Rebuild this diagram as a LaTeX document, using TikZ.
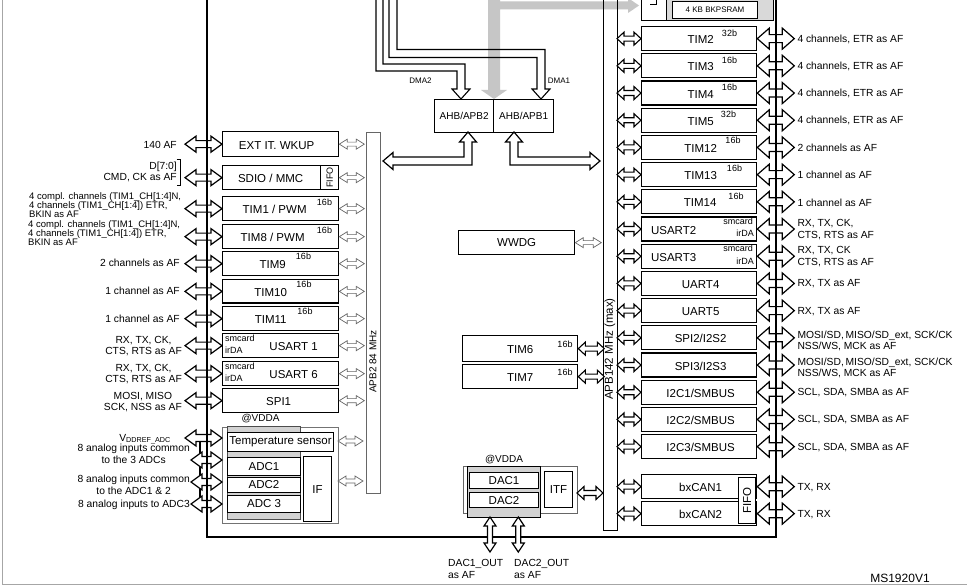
\documentclass[tikz,border=0pt]{standalone}
\usepackage{fontspec}
\setmainfont{Liberation Sans}
\usetikzlibrary{calc}
\newcommand\hdbl[6]{\path[#1] let \p1=#2, \p2=#3 in (\x1,\y1) -- (\x1+#4,\y1+#5) -- (\x1+#4,\y1+#6) -- (\x2-#4,\y1+#6) -- (\x2-#4,\y1+#5) -- (\x2,\y1) -- (\x2-#4,\y1-#5) -- (\x2-#4,\y1-#6) -- (\x1+#4,\y1-#6) -- (\x1+#4,\y1-#5) -- cycle;}
\newcommand\vdbl[6]{\path[#1] let \p1=#2, \p2=#3 in (\x1,\y1) -- (\x1+#5,\y1-#4) -- (\x1+#6,\y1-#4) -- (\x1+#6,\y2+#4) -- (\x1+#5,\y2+#4) -- (\x1,\y2) -- (\x1-#5,\y2+#4) -- (\x1-#6,\y2+#4) -- (\x1-#6,\y1-#4) -- (\x1-#5,\y1-#4) -- cycle;}
\newcommand\fatL[2]{\hdbl{fatA}{#1}{#2}{11pt}{8pt}{3.5pt}}
\newcommand\fatR[2]{\hdbl{fatA}{#1}{#2}{12pt}{10.5pt}{4pt}}
\newcommand\thinA[2]{\hdbl{thinS}{#1}{#2}{8pt}{5pt}{2pt}}
\newcommand\smallA[2]{\hdbl{smA}{#1}{#2}{7pt}{6.5pt}{2.5pt}}
\tikzset{
 fatA/.style={draw=black, fill=white, line width=1.2pt, line join=miter},
 smA/.style={draw=black, fill=white, line width=1.1pt, line join=miter},
 thinS/.style={draw=black!60, fill=white, line width=0.7pt},
 blkL/.style={draw=black, fill=white, line width=1.3pt, inner sep=0pt, anchor=north west, minimum width=116pt},
 blkR/.style={draw=black, fill=white, line width=1.3pt, inner sep=0pt, anchor=north west, minimum width=115pt, minimum height=24pt},
 boxN/.style={draw=black, fill=white, line width=1.1pt, inner sep=0pt, anchor=north west},
 bt/.style={inner sep=0pt, font=\fontsize{11.5}{13}\selectfont},
 sup/.style={inner sep=0pt, font=\fontsize{9}{10}\selectfont},
 ll/.style={inner sep=0pt, font=\fontsize{10.3}{11.5}\selectfont, anchor=east, align=center},
 rl/.style={inner sep=0pt, font=\fontsize{10.3}{11.5}\selectfont, anchor=west, align=left},
}
\newcommand\lblk[5]{%
 \node[blkL, minimum height=#3pt] (#1) at (222,#2) {};
 \node[bt] (#1t) at ([xshift=#4pt,yshift=-1pt]#1.center) {#5};
 \fatL{([xshift=-37pt]#1.west)}{(#1.west)}
 \thinA{(#1.east)}{([xshift=25pt]#1.east)}}
\newcommand\rblk[6]{%
 \node[blkR] (#1) at (641,#2) {};
 \node[bt] (#1t) at ([xshift=#3pt,yshift=-1pt]#1.center) {#4};
 \fatR{(#1.east)}{([xshift=37pt]#1.east)}
 \smallA{([xshift=-24pt]#1.west)}{(#1.west)}
 \node[rl] (#1l) at ([xshift=40pt,yshift=#6pt]#1.east) {#5};}
\begin{document}
\begin{tikzpicture}[x=1pt,y=-1pt]
\useasboundingbox (0,0) rectangle (967,585);
\clip (0,0) rectangle (967,585);
\fill[white] (0,0) rectangle (967,585);
\draw[gray!70, line width=1pt] (2,-5) -- (2,584) -- (975,584);
% main frame
\draw[line width=1.6pt] (207,-10) -- (207,537) -- (776,537) -- (776,-10);
% gray bus arrow
\fill[gray!45] (488,-10) -- (488,90) -- (481,90) -- (494,99) -- (507,90) -- (500,90) -- (500,9.5) -- (628,9.5) -- (628,13) -- (639,5.5) -- (628,-2) -- (628,1.5) -- (500,1.5) -- (500,-10) -- cycle;
% DMA arrows
\draw[line width=1.1pt] (389,-10) -- (389,57.5) -- (537,57.5) -- (537,89) -- (532,89) -- (541,99) -- (550,89) -- (545,89) -- (545,49.5) -- (397,49.5) -- (397,-10);
\draw[line width=1.1pt] (376,-10) -- (376,71) -- (457,71) -- (457,89) -- (452,89) -- (461,99) -- (470,89) -- (465,89) -- (465,64) -- (383,64) -- (383,-10);
\node[inner sep=0pt, font=\fontsize{8}{9}\selectfont] (dma2) at (420.5,81) {DMA2};
\node[inner sep=0pt, font=\fontsize{8}{9}\selectfont] (dma1) at (559,81) {DMA1};
% AHB bridges
\node[boxN, line width=1.3pt, minimum width=59pt, minimum height=33pt, font=\fontsize{10}{12}\selectfont] (ahb2) at (434,99) {AHB/APB2};
\node[boxN, line width=1.3pt, minimum width=60pt, minimum height=33pt, font=\fontsize{10}{12}\selectfont] (ahb1) at (493,99) {AHB/APB1};
\path[fatA] (468,132) -- (476.5,142) -- (472,142) -- (472,165) -- (393,165) -- (393,169.5) -- (383,161) -- (393,152.5) -- (393,157) -- (464,157) -- (464,142) -- (459.5,142) -- cycle;
\path[fatA] (514,132) -- (522.5,142) -- (518,142) -- (518,157) -- (590,157) -- (590,152.5) -- (600,161) -- (590,169.5) -- (590,165) -- (510,165) -- (510,142) -- (505.5,142) -- cycle;
% BKPSRAM
\path[draw, line width=0.9pt, fill=gray!30] (641,-10) rectangle (773,20.5);
\path[draw, line width=0.9pt, fill=white] (641,-10) rectangle (666,20.5);
\node[boxN, minimum width=85pt, minimum height=17pt, font=\fontsize{8}{9}\selectfont] (bkp) at (672,1) {4 KB BKPSRAM};
\draw[line width=0.7pt] (650,4) -- (656,4) -- (656,-2);
% buses
\node[draw=black!60, line width=0.8pt, anchor=north west, minimum width=14pt, minimum height=361pt, inner sep=0pt] (apb2) at (366,132) {};
\node[rotate=90, inner sep=0pt, font=\fontsize{10}{12}\selectfont] (apb2t) at (373,361.5) {APB2 84 MHz};
\node[draw, line width=1.1pt, anchor=north west, minimum width=14pt, minimum height=540pt, inner sep=0pt] (apb1) at (603,-10) {};
\node[rotate=90, inner sep=0pt, font=\fontsize{11.5}{13}\selectfont] (apb1t) at (610,349) {APB142 MHz (max)};
% left blocks
\lblk{ext}{131}{25}{-4}{EXT IT. WKUP}
\lblk{sdio}{165}{24}{-10}{SDIO / MMC}
\draw[line width=1.1pt] ([xshift=-19pt]sdio.north east) -- ([xshift=-19pt]sdio.south east);
\node[rotate=90, inner sep=0pt, font=\fontsize{9}{10}\selectfont] (sdiof) at ([xshift=-9.5pt]sdio.east) {FIFO};
\lblk{ta}{196}{24}{-6}{TIM1 / PWM}
\lblk{tb}{224}{24}{-8}{TIM8 / PWM}
\lblk{tc}{251}{24}{-8}{TIM9}
\lblk{td}{279}{23.5}{-10}{TIM10}
\lblk{te}{306}{24}{-10}{TIM11}
\lblk{ua}{333}{24}{13}{USART 1}
\lblk{ub}{361}{24}{13}{USART 6}
\lblk{sa}{388}{24}{-2}{SPI1}
\node[sup] (tas) at (324.5,202) {16b};
\node[sup] (tbs) at (324.5,230.5) {16b};
\node[sup] (tcs) at (303.5,256.5) {16b};
\node[sup] (tds) at (304,284) {16b};
\node[sup] (tes) at (305,311) {16b};
\node[sup, anchor=west] (uas1) at (225,338.5) {smcard};
\node[sup, anchor=west] (uas2) at (225,350.5) {irDA};
\node[sup, anchor=west] (ubs1) at (225,366.5) {smcard};
\node[sup, anchor=west] (ubs2) at (225,378.5) {irDA};
% ADC group
\node[draw=black!55, line width=0.8pt, anchor=north west, minimum width=116pt, minimum height=96pt, inner sep=0pt] (adcg) at (222,427) {};
\path[draw=black!70, line width=0.6pt, fill=gray!35] (227,426) rectangle (300,519);
\node[boxN, minimum width=106pt, minimum height=19pt, font=\fontsize{11.5}{13}\selectfont] (temp) at (227,432) {Temperature sensor};
\node[boxN, minimum width=73pt, minimum height=18pt, font=\fontsize{11.5}{13}\selectfont] (adc1) at (227,456.5) {ADC1};
\node[boxN, minimum width=73pt, minimum height=15.5pt, font=\fontsize{11.5}{13}\selectfont] (adc2) at (227,476.5) {ADC2};
\node[boxN, minimum width=73pt, minimum height=17.5pt, font=\fontsize{11.5}{13}\selectfont] (adc3) at (227,494.5) {ADC 3};
\node[boxN, minimum width=28pt, minimum height=65pt, font=\fontsize{11.5}{13}\selectfont] (if) at (303,456) {IF};
\node[inner sep=0pt, font=\fontsize{10}{12}\selectfont] (vdda1) at (260.5,419) {@VDDA};
\draw[line width=1.3pt] (200,438) -- (200,504);
\fatL{(185,438)}{(222,438)}
\fatL{(191,460)}{(222,460)}
\fatL{(191,482)}{(222,482)}
\fatL{(191,504)}{(222,504)}
\thinA{(338,441)}{(363,441)}
\thinA{(338,481)}{(363,481)}
% left labels
\node[ll] (l140) at (177,144.5) {140 AF};
\node[ll] (lsd1) at (177,167) {D[7:0]};
\node[ll] (lsd2) at (177,177.5) {CMD, CK as AF};
\draw[line width=0.6pt] (176.5,159) -- (180.5,159) -- (180.5,185.5) -- (176.5,185.5);
\node[ll, anchor=west, align=left, font=\fontsize{9.5}{9}\selectfont] (lta) at (29,205) {4 compl. channels (TIM1\_CH[1:4]N,\\4 channels (TIM1\_CH[1:4]) ETR,\\BKIN as AF};
\node[ll, anchor=west, align=left, font=\fontsize{9.5}{9}\selectfont] (ltb) at (28,233) {4 compl. channels (TIM1\_CH[1:4]N,\\4 channels (TIM1\_CH[1:4]) ETR,\\BKIN as AF};
\node[ll] (ltc) at (180,263) {2 channels as AF};
\node[ll] (ltd) at (180,290.5) {1 channel as AF};
\node[ll] (lte) at (180,318.5) {1 channel as AF};
\node[ll] (lua) at (182,346) {RX, TX, CK,\\CTS, RTS as AF};
\node[ll] (lub) at (182,374) {RX, TX, CK,\\CTS, RTS as AF};
\node[ll] (lsa) at (182,402) {MOSI, MISO\\SCK, NSS as AF};
\node[ll] (lvr) at (171,439) {V\textsubscript{DDREF\_ADC}};
\node[ll] (lad1) at (190,454) {8 analog inputs common\\to the 3 ADCs};
\node[ll] (lad2) at (190,485) {8 analog inputs common\\to the ADC1 \& 2};
\node[ll] (lad3) at (190,505) {8 analog inputs to ADC3};
% middle blocks
\node[boxN, line width=1.3pt, minimum width=116pt, minimum height=24pt, font=\fontsize{11.5}{13}\selectfont] (wwdg) at (458,230) {WWDG};
\thinA{(wwdg.east)}{([xshift=26pt]wwdg.east)}
\node[boxN, line width=1.3pt, minimum width=115pt, minimum height=26pt] (tim6) at (462,335) {};
\node[bt] (tim6t) at ([yshift=-1pt]tim6.center) {TIM6};
\node[sup] (tim6s) at (565,344) {16b};
\node[boxN, line width=1.3pt, minimum width=115pt, minimum height=24pt] (tim7) at (462,364) {};
\node[bt] (tim7t) at ([yshift=-1pt]tim7.center) {TIM7};
\node[sup] (tim7s) at (565,372.5) {16b};
\smallA{(tim6.east)}{([xshift=26pt]tim6.east)}
\smallA{(tim7.east)}{([xshift=26pt]tim7.east)}
% DAC
\node[draw=black!60, line width=0.8pt, anchor=north west, minimum width=114pt, minimum height=47pt, inner sep=0pt] (dacg) at (463,466) {};
\path[draw, line width=1pt, fill=gray!35] (467,466.5) rectangle (540,517);
\node[boxN, minimum width=69pt, minimum height=15.5pt, font=\fontsize{11.5}{13}\selectfont] (dac1) at (469,472) {DAC1};
\node[boxN, minimum width=69pt, minimum height=15pt, font=\fontsize{11.5}{13}\selectfont] (dac2) at (469,492) {DAC2};
\node[boxN, minimum width=28pt, minimum height=36pt, font=\fontsize{11.5}{13}\selectfont] (itf) at (544,471) {ITF};
\node[inner sep=0pt, font=\fontsize{10}{12}\selectfont] (vdda2) at (504,459.5) {@VDDA};
\smallA{(577,493)}{(603,493)}
\vdbl{fatA}{(490,517)}{(490,552)}{9pt}{6pt}{2.5pt}
\vdbl{fatA}{(518.3,517)}{(518.3,552)}{9pt}{6pt}{2.5pt}
\node[rl, font=\fontsize{10.3}{12}\selectfont] (dac1o) at (448,569) {DAC1\_OUT\\as AF};
\node[rl, font=\fontsize{10.3}{12}\selectfont] (dac2o) at (514,569) {DAC2\_OUT\\as AF};
% right blocks
\rblk{ra}{26}{1.5}{TIM2}{4 channels, ETR as AF}{-0.5}
\rblk{rb}{53.2}{1.5}{TIM3}{4 channels, ETR as AF}{-0.5}
\rblk{rc}{80.4}{1.5}{TIM4}{4 channels, ETR as AF}{-0.5}
\rblk{rd}{107.6}{1.5}{TIM5}{4 channels, ETR as AF}{-0.5}
\rblk{re}{134.8}{1.5}{TIM12}{2 channels as AF}{-0.5}
\rblk{rf}{162}{1.5}{TIM13}{1 channel as AF}{-0.5}
\rblk{rg}{189.2}{1}{TIM14}{1 channel as AF}{-0.5}
\rblk{rh}{216.4}{-25.5}{USART2}{RX, TX, CK,\\CTS, RTS as AF}{-0.5}
\rblk{ri}{243.6}{-25.5}{USART3}{RX, TX, CK\\CTS, RTS as AF}{-0.5}
\rblk{rj}{270.8}{1.5}{UART4}{RX, TX as AF}{-0.5}
\rblk{rk}{298}{1.5}{UART5}{RX, TX as AF}{-0.5}
\rblk{rl2}{325.2}{1.5}{SPI2/I2S2}{MOSI/SD,\,MISO/SD\_ext, SCK/CK\\NSS/WS, MCK as AF}{-3}
\rblk{rm}{352.4}{1.5}{SPI3/I2S3}{MOSI/SD,\,MISO/SD\_ext, SCK/CK\\NSS/WS, MCK as AF}{-3}
\rblk{rn}{379.6}{1.5}{I2C1/SMBUS}{SCL, SDA, SMBA as AF}{-0.5}
\rblk{ro}{406.8}{1.5}{I2C2/SMBUS}{SCL, SDA, SMBA as AF}{-0.5}
\rblk{rp}{434}{1.5}{I2C3/SMBUS}{SCL, SDA, SMBA as AF}{-0.5}
\rblk{rq}{474}{1.5}{bxCAN1}{TX, RX}{-0.5}
\rblk{rr}{501}{1.5}{bxCAN2}{TX, RX}{-0.5}
\node[boxN, minimum width=17pt, minimum height=46pt] (cfifo) at (738,477) {};
\node[rotate=90, inner sep=0pt, font=\fontsize{11.5}{13}\selectfont] (cfifot) at (cfifo.center) {FIFO};
\node[sup] (ras) at (729.5,33) {32b};
\node[sup] (rbs) at (729.5,60.5) {16b};
\node[sup] (rcs) at (729.5,87.5) {16b};
\node[sup] (rds) at (728.5,114.5) {32b};
\node[sup] (res) at (733,140.5) {16b};
\node[sup] (rfs) at (734.5,168) {16b};
\node[sup] (rgs) at (736,196) {16b};
\node[sup, anchor=east] (rhs1) at (753,221) {smcard};
\node[sup, anchor=east] (rhs2) at (754,233.5) {irDA};
\node[sup, anchor=east] (ris1) at (753,248.5) {smcard};
\node[sup, anchor=east] (ris2) at (754,261) {irDA};
% bus lines over arrows
\draw[line width=1.6pt] (207,-10) -- (207,537);
\draw[line width=1.6pt] (776,-10) -- (776,537);
\node[inner sep=0pt, font=\fontsize{12}{14}\selectfont] (ms) at (900,578) {MS1920V1};
\end{tikzpicture}
\end{document}
